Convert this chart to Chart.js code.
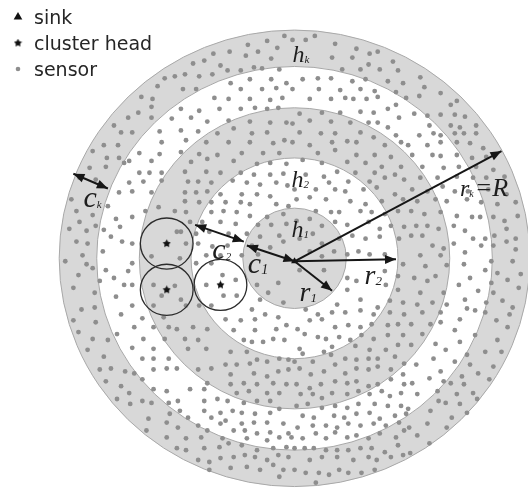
<!DOCTYPE html>
<html>
<head>
<meta charset="utf-8">
<script src="https://cdn.jsdelivr.net/npm/chart.js@4.4.1/dist/chart.umd.min.js"></script>
<style>
  html, body { margin: 0; padding: 0; background: #fff; }
  #wrap { width: 528px; height: 495px; }
</style>
</head>
<body>
<div id="wrap"><canvas id="field" width="528" height="495"></canvas></div>
<script>
// field coordinates: sink at the origin, y pointing up
const seriesNames = ['sink', 'cluster head', 'sensor'];
const ringRadii = [51, 102, 153, 195, 232]; // h1 | gap | h2 | gap | hk
const sinkPos = [0, -3];
const clusterX = [-126, -126, -73];
const clusterY = [15, -32, -27];
const clusterRange = 26;

const sensors = [
  [-128,183],[-151,164],[-140,162],[-141,154],[-164,143],[-154,148],[-141,143],[-171,128],[-160,128],[-188,115],
  [-174,115],[-133,129],[-131,118],[-199,109],[-185,102],[-173,102],[-163,99],[-153,107],[-141,99],[-133,106],
  [-202,92],[-186,93],[-168,97],[-153,87],[-143,87],[-131,87],[-196,80],[-163,77],[-149,78],[-131,79],
  [-173,67],[-160,68],[-141,67],[-184,53],[-199,44],[-176,40],[-160,42],[-147,48],[-134,52],[-212,37],
  [-196,33],[-188,29],[-172,32],[-215,17],[-204,15],[-181,22],[-170,17],[-160,15],[-209,3],[-189,7],
  [-135,175],[-118,185],[-178,135],[-212,82],[-220,60],[-215,48],[-222,30],[-205,28],[-100,198],[-80,208],
  [-10,226],[20,226],
  [-27,221],[-46,217],[-64,210],[-36,210],[-17,214],[-89,201],[-48,206],[-23,203],[-73,196],[-53,191],
  [-66,191],[-40,194],[-32,193],[-15,192],[-108,187],[-94,185],[-81,187],[-63,178],[-44,182],[-23,182],
  [-8,178],[-110,172],[-97,172],[-53,172],[-32,172],[-18,173],[-79,163],[-65,162],[-44,162],[-24,161],
  [-12,163],[-112,152],[-94,150],[-74,152],[-53,152],[-39,153],[-27,152],[-16,153],[-121,142],[-102,143],
  [-86,139],[-65,140],[-44,139],[-24,138],[-8,138],[-112,130],[-95,129],[-76,127],[-60,132],[-42,127],
  [-27,128],[-107,120],[-87,118],[-65,118],[-44,118],[-21,117],[-10,120],[-112,108],[-94,106],[-76,105],
  [-52,107],[-31,107],[-15,107],[-102,98],[-86,101],[-60,99],[-37,96],[-24,97],[-8,96],[-108,88],
  [-87,88],[-73,87],[-53,87],[-40,85],[-24,85],[-11,86],[-105,78],[-95,78],[-82,77],[-61,79],
  [-47,77],[-34,75],[-18,77],[-7,74],[-108,67],[-97,67],[-86,68],[-73,65],[-52,65],[-37,65],
  [-24,63],[-108,58],[-94,57],[-82,57],[-68,57],[-53,57],[-44,55],[-18,55],[-6,53],[-118,48],
  [-107,47],[-82,47],[-70,48],[-57,47],[-44,43],[-27,42],[-11,45],[-103,37],[-91,37],[-73,37],
  [-58,35],[-36,34],[-23,34],[-8,35],[-112,27],[-97,25],[-84,27],[-65,25],[-47,25],[-34,22],
  [-15,23],[-107,15],[-95,15],[-81,12],[-66,13],[-42,13],[-24,11],[-11,17],[-87,3],[-73,3],
  [-52,3],[-36,4],
  [-2,222],[11,222],[40,218],[61,213],[74,208],[82,210],[97,200],[37,204],[57,204],[73,197],
  [47,192],[65,192],[84,192],[102,191],[8,182],[23,183],[36,183],[57,180],[70,182],[92,180],
  [107,178],[-2,172],[24,172],[45,171],[65,172],[79,170],[100,169],[110,163],[15,162],[36,162],
  [50,163],[58,162],[71,162],[82,164],[92,152],[100,156],[5,147],[27,148],[45,148],[65,149],
  [78,148],[103,143],[-2,137],[15,140],[36,139],[55,138],[73,138],[82,138],[92,133],[5,128],
  [26,127],[40,127],[65,128],[78,123],[100,125],[-2,118],[15,115],[37,118],[52,119],[61,118],
  [89,115],[105,118],[23,107],[40,110],[61,105],[79,105],[95,103],[8,100],[27,97],[52,98],
  [70,97],[86,93],[105,93],[11,85],[29,83],[42,88],[60,87],[79,87],[99,85],[34,77],
  [53,78],[74,78],[89,82],[108,80],[0,70],[21,70],[40,70],[50,68],[68,70],[81,72],
  [99,65],[2,60],[15,62],[31,60],[55,58],[70,55],[86,58],[107,60],[21,48],[36,47],
  [44,47],[65,48],[76,47],[89,45],[102,48],[2,38],[15,40],[27,33],[40,37],[52,34],
  [73,37],[84,30],[95,33],[108,32],[5,20],[18,25],[27,15],[44,20],[57,23],[70,20],
  [84,22],[103,20],[15,7],[27,2],[39,7],[52,4],[63,7],[74,4],[89,4],
  [124,184],[128,174],[144,168],[123,165],[154,156],[160,160],[118,147],[131,145],[144,146],[158,146],
  [168,144],[179,135],[133,135],[154,135],[163,133],[123,125],[137,127],[144,125],[158,127],[167,127],
  [179,127],[112,115],[131,115],[144,118],[160,118],[173,117],[186,112],[116,105],[136,105],[144,104],
  [160,105],[175,102],[189,103],[126,93],[147,92],[162,93],[179,93],[196,90],[124,82],[141,82],
  [160,83],[176,82],[189,82],[207,83],[116,70],[131,68],[146,73],[158,68],[171,68],[191,70],
  [209,65],[121,58],[139,60],[150,58],[170,60],[184,57],[200,55],[218,57],[115,48],[128,45],
  [144,47],[160,43],[175,42],[183,42],[196,42],[207,38],[220,43],[120,33],[131,33],[142,30],
  [157,33],[168,28],[176,20],[188,20],[197,23],[209,30],[218,20],[115,23],[126,23],[136,13],
  [147,10],[157,15],[168,6],[184,13],[196,13],[209,17],[218,9],[124,3],[144,3],
  [-226,-3],[-205,-6],[-199,-10],[-186,-12],[-160,-5],[-164,-13],[-213,-17],[-192,-23],[-178,-20],[-168,-27],
  [-160,-27],[-139,-27],[-218,-30],[-197,-35],[-176,-39],[-131,-38],[-210,-52],[-197,-50],[-160,-48],[-139,-48],
  [-218,-63],[-196,-65],[-171,-57],[-150,-61],[-129,-60],[-213,-75],[-199,-82],[-184,-83],[-158,-70],[-139,-70],
  [-124,-70],[-204,-93],[-188,-100],[-175,-77],[-160,-91],[-149,-82],[-139,-92],[-128,-82],[-192,-113],[-181,-112],
  [-167,-115],[-150,-102],[-139,-102],[-124,-102],[-186,-125],[-171,-130],[-158,-117],[-150,-123],[-139,-113],[-126,-112],
  [-175,-143],[-163,-137],[-150,-145],[-139,-133],[-126,-135],[-162,-148],[-141,-147],[-124,-147],[-144,-163],[-146,-175],
  [-126,-167],[-126,-182],[-123,-158],
  [-97,-5],[-82,-5],[-71,-17],[-58,-22],[-87,-27],[-70,-38],[-57,-38],[-118,-28],[-94,-48],[-82,-48],
  [-107,-48],[-37,-27],[-16,-25],[-26,-35],[-11,-45],[-34,-42],[-42,-52],[-68,-62],[-53,-63],[-39,-62],
  [-29,-57],[-16,-60],[-116,-72],[-100,-70],[-86,-72],[-60,-73],[-39,-73],[-18,-72],[-8,-68],[-108,-82],
  [-95,-83],[-87,-92],[-50,-83],[-42,-85],[-31,-85],[-21,-82],[-10,-83],[-105,-92],[-63,-95],[-47,-95],
  [-37,-103],[-27,-105],[-15,-102],[-6,-103],[-116,-112],[-95,-113],[-82,-112],[-68,-108],[-57,-108],[-44,-107],
  [-16,-115],[-6,-113],[-63,-118],[-40,-117],[-27,-120],[-86,-127],[-63,-128],[-50,-127],[-37,-128],[-21,-127],
  [-8,-128],[-103,-133],[-89,-133],[-57,-137],[-45,-135],[-27,-137],[-15,-137],[-115,-145],[-89,-145],[-76,-143],
  [-66,-145],[-50,-147],[-37,-145],[-24,-145],[-113,-155],[-89,-155],[-73,-157],[-61,-155],[-52,-157],[-39,-158],
  [-24,-157],[-15,-153],[-105,-162],[-82,-162],[-68,-165],[-52,-168],[-40,-167],[-27,-167],[-11,-168],[-115,-172],
  [-95,-170],[-86,-175],[-73,-168],[-60,-175],[-49,-175],[-37,-178],[-24,-177],[-6,-178],[-107,-183],[-92,-182],
  [-71,-183],[-47,-183],[-27,-185],[-15,-182],[-116,-193],[-107,-195],[-89,-193],[-74,-192],[-65,-188],[-52,-190],
  [-37,-195],[-21,-193],[-8,-192],[-95,-205],[-84,-207],[-73,-203],[-60,-202],[-49,-200],[-39,-202],[-27,-205],
  [-16,-200],[-6,-202],[-84,-215],[-63,-213],[-47,-212],[-34,-215],[-21,-210],[-11,-215],[-15,-222],
  [5,-12],[29,-12],[52,-20],[61,-23],[89,-13],[102,-18],[107,-6],[42,-47],[52,-32],[65,-42],
  [90,-27],[102,-32],[94,-43],[107,-45],[11,-52],[23,-57],[37,-55],[50,-55],[65,-53],[78,-57],
  [82,-50],[94,-55],[108,-57],[15,-63],[27,-62],[40,-70],[53,-68],[65,-70],[76,-67],[92,-68],
  [102,-67],[3,-72],[10,-77],[23,-80],[31,-82],[44,-80],[55,-83],[66,-78],[78,-82],[92,-78],
  [107,-78],[5,-92],[8,-97],[29,-95],[37,-90],[60,-89],[74,-93],[90,-93],[102,-88],[0,-105],
  [18,-105],[36,-98],[50,-102],[61,-103],[73,-102],[82,-102],[99,-100],[108,-107],[5,-112],[16,-118],
  [29,-115],[40,-108],[50,-117],[61,-112],[73,-113],[82,-110],[95,-113],[107,-118],[2,-128],[15,-132],
  [26,-128],[40,-125],[52,-127],[61,-125],[73,-130],[82,-128],[95,-123],[108,-128],[6,-138],[18,-138],
  [27,-142],[37,-137],[52,-138],[63,-135],[74,-138],[86,-135],[94,-140],[105,-137],[2,-150],[13,-148],
  [27,-152],[40,-150],[52,-152],[63,-148],[79,-148],[92,-150],[105,-150],[8,-160],[19,-162],[39,-160],
  [49,-162],[61,-158],[74,-157],[84,-163],[99,-160],[110,-158],[3,-172],[18,-170],[31,-170],[42,-172],
  [53,-168],[65,-170],[78,-168],[90,-170],[103,-167],[-3,-182],[8,-183],[21,-178],[31,-183],[40,-177],
  [52,-182],[61,-180],[73,-183],[84,-178],[100,-182],[108,-175],[0,-193],[10,-193],[19,-193],[31,-195],
  [42,-195],[53,-195],[65,-193],[76,-193],[89,-197],[102,-190],[15,-205],[27,-202],[42,-202],[58,-205],
  [73,-202],[81,-205],[95,-202],[107,-200],[0,-215],[11,-218],[24,-218],[34,-220],[44,-215],[53,-218],
  [66,-218],[79,-215],[21,-228],
  [129,-8],[150,-7],[167,-6],[194,-3],[215,-3],[223,-16],[118,-20],[131,-23],[139,-18],[162,-27],
  [173,-20],[181,-33],[188,-12],[194,-25],[200,-15],[210,-22],[221,-30],[124,-35],[147,-35],[168,-42],
  [170,-51],[178,-53],[189,-45],[196,-35],[205,-43],[215,-50],[212,-57],[121,-47],[136,-45],[150,-47],
  [126,-55],[144,-55],[163,-62],[199,-63],[188,-55],[115,-67],[134,-67],[144,-65],[158,-73],[178,-78],
  [210,-70],[126,-77],[139,-87],[163,-85],[149,-93],[200,-83],[188,-95],[204,-95],[115,-88],[120,-108],
  [137,-102],[144,-115],[158,-105],[170,-98],[173,-108],[196,-110],[181,-117],[165,-120],[116,-127],[133,-122],
  [147,-125],[154,-127],[142,-145],[141,-135],[160,-138],[167,-128],[176,-137],[192,-123],[180,-143],[121,-138],
  [149,-147],[163,-148],[134,-155],[155,-162],[170,-157],[112,-153],[131,-168],[113,-172],[150,-172],[121,-180],
  [133,-188],[114,-198],
  [-116,27],[-141,2],[-113,0],[-112,-42]
];

// [x1, y1, x2, y2, heads at both ends]
const arrows = [
  [0, -3, 204, 109, false],  // r_k = R
  [0, -3, 100, -1, false],   // r_2
  [0, -3, 37, -33, false],   // r_1
  [-47, 13, 0, -3, true],    // c_1
  [-98, 34, -50, 17, true],  // c_2
  [-218, 86, -184, 71, true] // c_k
];

const labels = [
  { x: -2, y: 200, parts: [['h', 24], ['k', 11, true]] },
  { x: -3, y: 73, parts: [['h', 24], ['2', 11, true]] },
  { x: -3, y: 22, parts: [['h', 24], ['1', 11, true]] },
  { x: 163, y: 63, parts: [['r', 24], ['k', 10, true], ['=R', 26]] },
  { x: -208, y: 52, parts: [['c', 30], ['k', 11, true]] },
  { x: -81, y: -1, parts: [['c', 30], ['2', 11, true]] },
  { x: -46, y: -15, parts: [['c', 30], ['1', 14, true]] },
  { x: 69, y: -26, parts: [['r', 28], ['2', 13, true]] },
  { x: 5, y: -43, parts: [['r', 28], ['1', 13, true]] }
];

// small filled star used for cluster heads
const star = document.createElement('canvas');
star.width = 9; star.height = 9;
const sc = star.getContext('2d');
sc.beginPath();
for (let k = 0; k < 10; k++) {
  const r = k % 2 ? 2.3 : 4.2;
  const a = -Math.PI / 2 + k * Math.PI / 5;
  sc.lineTo(4.5 + r * Math.cos(a), 4.5 + r * Math.sin(a));
}
sc.closePath();
sc.fillStyle = '#111';
sc.fill();

const rings = {
  id: 'rings',
  beforeDatasetsDraw(chart) {
    const { ctx, scales: { x, y } } = chart;
    const cx = x.getPixelForValue(0), cy = y.getPixelForValue(0);
    ctx.save();
    for (let i = ringRadii.length - 1; i >= 0; i--) {
      const rx = x.getPixelForValue(ringRadii[i]) - cx;
      const ry = cy - y.getPixelForValue(ringRadii[i]);
      ctx.beginPath();
      ctx.ellipse(cx, cy, rx, ry, 0, 0, Math.PI * 2);
      ctx.fillStyle = i % 2 === 0 ? '#d8d8d8' : '#ffffff';
      ctx.fill();
      ctx.lineWidth = 1;
      ctx.strokeStyle = '#a8a8a8';
      ctx.stroke();
    }
    ctx.restore();
  }
};

function arrowHead(ctx, x1, y1, x2, y2) {
  const a = Math.atan2(y2 - y1, x2 - x1);
  const L = 11, W = 4.5;
  ctx.beginPath();
  ctx.moveTo(x2, y2);
  ctx.lineTo(x2 - L * Math.cos(a) + W * Math.sin(a), y2 - L * Math.sin(a) - W * Math.cos(a));
  ctx.lineTo(x2 - L * Math.cos(a) - W * Math.sin(a), y2 - L * Math.sin(a) + W * Math.cos(a));
  ctx.closePath();
  ctx.fill();
}

const overlay = {
  id: 'overlay',
  afterDatasetsDraw(chart) {
    const { ctx, scales: { x, y } } = chart;
    ctx.save();

    // cluster ranges
    ctx.strokeStyle = '#2b2b2b';
    ctx.lineWidth = 1.3;
    clusterX.forEach((cxv, i) => {
      const px = x.getPixelForValue(cxv), py = y.getPixelForValue(clusterY[i]);
      const rx = x.getPixelForValue(cxv + clusterRange) - px;
      const ry = py - y.getPixelForValue(clusterY[i] + clusterRange);
      ctx.beginPath();
      ctx.ellipse(px, py, rx, ry, 0, 0, Math.PI * 2);
      ctx.stroke();
    });

    // arrows
    ctx.strokeStyle = '#161616';
    ctx.fillStyle = '#161616';
    ctx.lineWidth = 2;
    arrows.forEach(([ax1, ay1, ax2, ay2, both]) => {
      const x1 = x.getPixelForValue(ax1), y1 = y.getPixelForValue(ay1);
      const x2 = x.getPixelForValue(ax2), y2 = y.getPixelForValue(ay2);
      ctx.beginPath();
      ctx.moveTo(x1, y1);
      ctx.lineTo(x2, y2);
      ctx.stroke();
      arrowHead(ctx, x1, y1, x2, y2);
      if (both) arrowHead(ctx, x2, y2, x1, y1);
    });

    // math labels
    ctx.fillStyle = '#1e1e1e';
    ctx.textBaseline = 'alphabetic';
    labels.forEach(l => {
      let px = x.getPixelForValue(l.x);
      const py = y.getPixelForValue(l.y);
      l.parts.forEach(([t, size, sub]) => {
        ctx.font = 'italic ' + size + 'px "Liberation Serif"';
        ctx.fillText(t, px, sub ? py + 1 : py);
        px += ctx.measureText(t).width + (sub ? 1 : 0);
      });
    });
    ctx.restore();
  }
};

const legendBox = {
  id: 'legendBox',
  afterDraw(chart) {
    const ctx = chart.ctx;
    ctx.save();
    chart.data.datasets.forEach((ds, i) => {
      const base = 24 + i * 26;
      ctx.fillStyle = ds.backgroundColor;
      ctx.strokeStyle = ds.backgroundColor;
      Chart.helpers.drawPoint(ctx, {
        pointStyle: ds.pointStyle, radius: ds.legendRadius, rotation: 0, borderWidth: 0
      }, 18, base - 7);
      ctx.fillStyle = '#262626';
      ctx.font = '19px "DejaVu Sans"';
      ctx.fillText(ds.label, 34, base);
    });
    ctx.restore();
  }
};

new Chart(document.getElementById('field'), {
  type: 'scatter',
  data: {
    datasets: [
      {
        label: seriesNames[0],
        data: [{ x: sinkPos[0], y: sinkPos[1] }],
        pointStyle: 'triangle',
        pointRadius: 4,
        legendRadius: 5,
        backgroundColor: '#111111',
        borderWidth: 0,
        order: 1
      },
      {
        label: seriesNames[1],
        data: clusterX.map((v, i) => ({ x: v, y: clusterY[i] })),
        pointStyle: star,
        pointRadius: 4,
        legendRadius: 4,
        backgroundColor: '#111111',
        borderWidth: 0,
        order: 2
      },
      {
        label: seriesNames[2],
        data: sensors.map(([sx, sy]) => ({ x: sx, y: sy })),
        pointStyle: 'circle',
        pointRadius: 2.4,
        legendRadius: 2.3,
        backgroundColor: '#8e8e8e',
        borderWidth: 0,
        order: 3
      }
    ]
  },
  options: {
    responsive: false,
    animation: false,
    events: [],
    layout: { padding: 0 },
    plugins: { legend: { display: false }, tooltip: { enabled: false } },
    scales: {
      x: { type: 'linear', display: false, min: -286.4, max: 226.2 },
      y: { type: 'linear', display: false, min: -236.5, max: 258.5 }
    }
  },
  plugins: [rings, overlay, legendBox]
});
</script>
</body>
</html>
